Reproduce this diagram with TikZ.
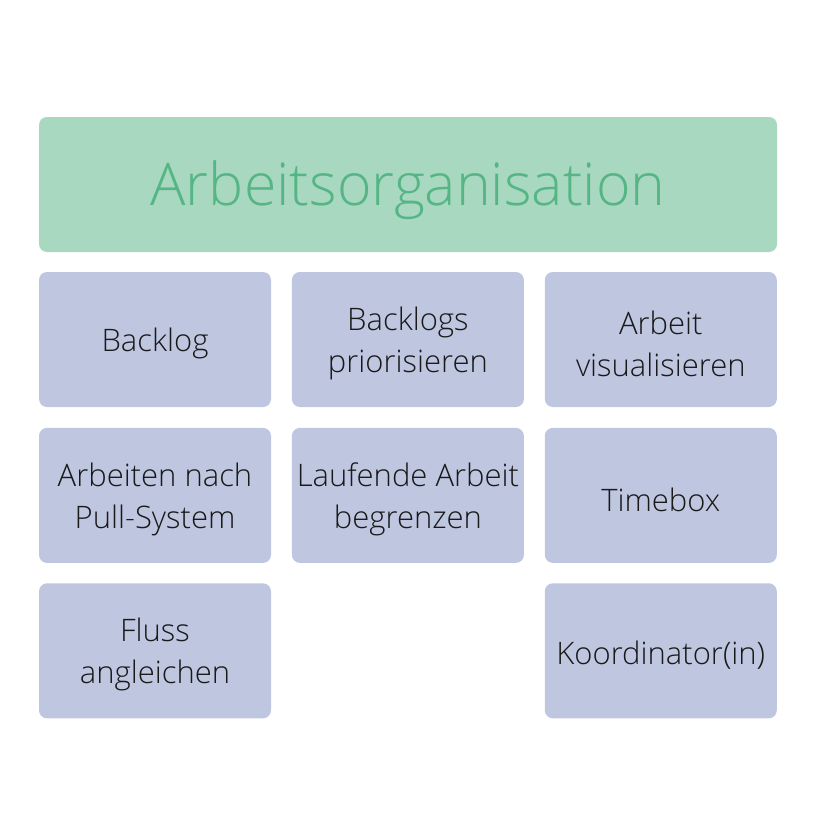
\documentclass[tikz,border=0pt]{standalone}
\usepackage{fontspec}
\setmainfont{Open Sans Light}
\usepackage{tikz}
\usetikzlibrary{positioning}
\definecolor{titlefill}{RGB}{168,216,192}
\definecolor{titletext}{RGB}{85,181,133}
\definecolor{boxfill}{RGB}{191,198,224}
\definecolor{boxtext}{RGB}{25,25,25}

\begin{document}
\begin{tikzpicture}[x=1pt,y=-1pt,
        head/.style={
          fill=titlefill,rounded corners=8pt,
          minimum width=738pt,minimum height=135pt
        },
        headtext/.style={
          text=titletext,yshift=-6pt,font=\fontsize{59}{70}\selectfont
        },
        card/.style={
          fill=boxfill,rounded corners=8pt,
          minimum width=232pt,minimum height=135pt,inner sep=0pt
        },
        cardtext/.style={
          text=boxtext,align=center,yshift=-4pt,
          font=\fontsize{31}{42}\selectfont
        }
      ]
      \useasboundingbox (0,0) rectangle (816,836);
      \node [head,label={[headtext]center:Arbeitsorganisation}] (title) at (408,184.5) {};
      \node [card,label={[cardtext]center:Backlog}] (backlog) at (155,339.5) {};
      \node [card,right=20.5pt of backlog,
        label={[cardtext]center:{Backlogs\\priorisieren}}] (prio) {};
      \node [card,right=20.5pt of prio,
        label={[cardtext]center:{Arbeit\\visualisieren}}] (visual) {};
      \node [card,below=20.5pt of backlog,
        label={[cardtext]center:{Arbeiten nach\\Pull-System}}] (pull) {};
      \node [card,right=20.5pt of pull,
        label={[cardtext]center:{Laufende Arbeit\\begrenzen}}] (wip) {};
      \node [card,right=20.5pt of wip,
        label={[cardtext]center:Timebox}] (timebox) {};
      \node [card,below=20pt of pull,
        label={[cardtext]center:{Fluss\\angleichen}}] (fluss) {};
      \node [card,below=20pt of timebox,
        label={[cardtext]center:Koordinator(in)}] (koord) {};
    \end{tikzpicture}
\end{document}
